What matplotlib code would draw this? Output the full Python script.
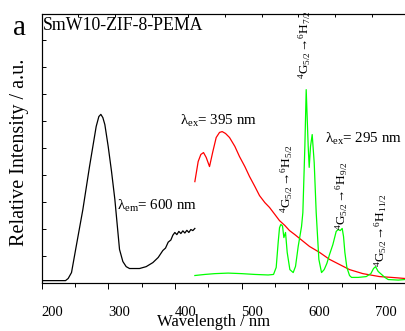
import numpy as np
import matplotlib
matplotlib.use("Agg")
import matplotlib.pyplot as plt
from matplotlib.ticker import MultipleLocator

plt.rcParams['font.family'] = ['Liberation Serif', 'DejaVu Serif']
plt.rcParams['mathtext.fontset'] = 'custom'
plt.rcParams['mathtext.rm'] = 'Liberation Serif'
plt.rcParams['mathtext.it'] = 'Liberation Serif:italic'

# excitation spectrum (lambda_em = 600 nm), black
exc_wl = [200, 230, 236, 240, 245, 252, 262, 272, 282, 286, 289, 292, 295, 300, 305, 310,
          317, 322, 327, 332, 347, 357, 367, 375, 382, 386, 390, 394, 397, 400, 403, 406,
          409, 412, 415, 418, 421, 424, 427, 430]
exc_int = [7, 7, 7, 15, 37, 134, 271, 431, 580, 617, 625, 613, 587, 506, 413, 309,
           123, 78, 59, 52, 52, 59, 74, 93, 119, 128, 150, 158, 176, 186, 178, 190,
           182, 192, 184, 194, 186, 197, 193, 201]

# emission, lambda_ex = 395 nm, red
em395_wl = [430, 435, 439, 443, 447, 452, 457, 462, 467, 471, 476, 482, 490, 497, 505, 512,
            520, 527, 535, 542, 550, 557, 565, 572, 580, 587, 602, 617, 632, 647, 662, 682,
            707, 725, 745]
em395_int = [375, 450, 476, 483, 465, 431, 487, 539, 558, 561, 554, 539, 506, 468, 431, 394,
             357, 323, 297, 279, 253, 230, 212, 193, 178, 164, 134, 112, 86, 67, 48, 33,
             22, 19, 15]

# emission, lambda_ex = 295 nm, green
em295_wl = [430, 445, 460, 480, 500, 520, 540, 548, 552, 555, 557, 559, 561.5, 563.5, 566,
            568.5, 572.5, 577.5, 581, 585, 590, 592, 595, 597, 600, 601.5, 603.5, 606, 609,
            612, 616, 620, 624, 628, 632, 637, 642, 645, 648, 651, 653, 655, 658, 662, 665,
            675, 687, 694, 698, 701, 705, 710, 715, 720, 735, 745]
em295_int = [26, 30, 33, 35, 33, 30, 28, 30, 56, 150, 204, 216, 210, 167, 186,
             112, 48, 37, 60, 134, 208, 260, 506, 717, 506, 428, 506, 550, 446,
             260, 86, 37, 48, 71, 104, 141, 190, 197, 193, 201, 171, 112, 56, 26, 19,
             19, 22, 33, 52, 59, 41, 30, 19, 11, 9, 11]

fig = plt.figure(figsize=(4.05, 3.31), dpi=100)
ax = fig.add_axes([0.1025, 0.1465, 0.9054, 0.8127])

ax.plot(exc_wl, exc_int, color='black', lw=0.9)
ax.plot(em395_wl, em395_int, color='#ff0000', lw=0.9)
ax.plot(em295_wl, em295_int, color='#00ff00', lw=0.9)

ax.set_xlim(200, 750)
ax.set_ylim(0, 1000)

ax.xaxis.set_minor_locator(MultipleLocator(50))
ax.set_xticks([200, 300, 400, 500, 600, 700])
ax.set_xticklabels(['200', '300', '400', '500', '600', '700'], ha='left')
ax.tick_params(axis='x', which='major', direction='out', length=4, width=0.7,
               labelsize=10.5, pad=13)
ax.tick_params(axis='x', which='minor', direction='out', length=3, width=0.7)
ax.yaxis.set_major_locator(MultipleLocator(100))
ax.tick_params(axis='y', which='both', direction='in', length=3, width=0.7, labelleft=False)
for s in ax.spines.values():
    s.set_linewidth(0.8)
    s.set_color('#222222')

ax2 = ax.twiny()
ax2.set_xlim(0, 10)
ax2.set_xticks(range(11))
ax2.tick_params(axis='x', direction='in', length=2.5, width=0.7, labeltop=False)

ax.text(202, 937, 'SmW10-ZIF-8-PEMA', fontsize=12.8, va='baseline')
ax.text(408, 587, r'$\mathregular{\lambda_{ex}}$= 395 nm', fontsize=10.8, va='baseline')
ax.text(313, 271, r'$\mathregular{\lambda_{em}}$= 600 nm', fontsize=10.8, va='baseline')
ax.text(625, 520, r'$\mathregular{\lambda_{ex}}$= 295 nm', fontsize=10.8, va='baseline')

trans = [(595, 755, '7/2'), (568, 260, '5/2'), (650, 197, '9/2'), (709, 56, '11/2')]
for x, y, j in trans:
    ax.text(x, y, r'$\mathregular{^4G_{5/2}\!\rightarrow\!^6H_{%s}}$' % j, fontsize=9.5,
            rotation=90, ha='center', va='bottom')

fig.text(13 / 405, 1 - 35 / 331, 'a', fontsize=21, va='baseline')
fig.text(20 / 405, 1 - 152 / 331, 'Relative Intensity / a.u.', fontsize=14.5,
         rotation=90, ha='center', va='center')
fig.text(214 / 405, 1 - 326 / 331, 'Wavelength / nm', fontsize=12, ha='center', va='baseline')

fig.savefig('out.png', dpi=100)
